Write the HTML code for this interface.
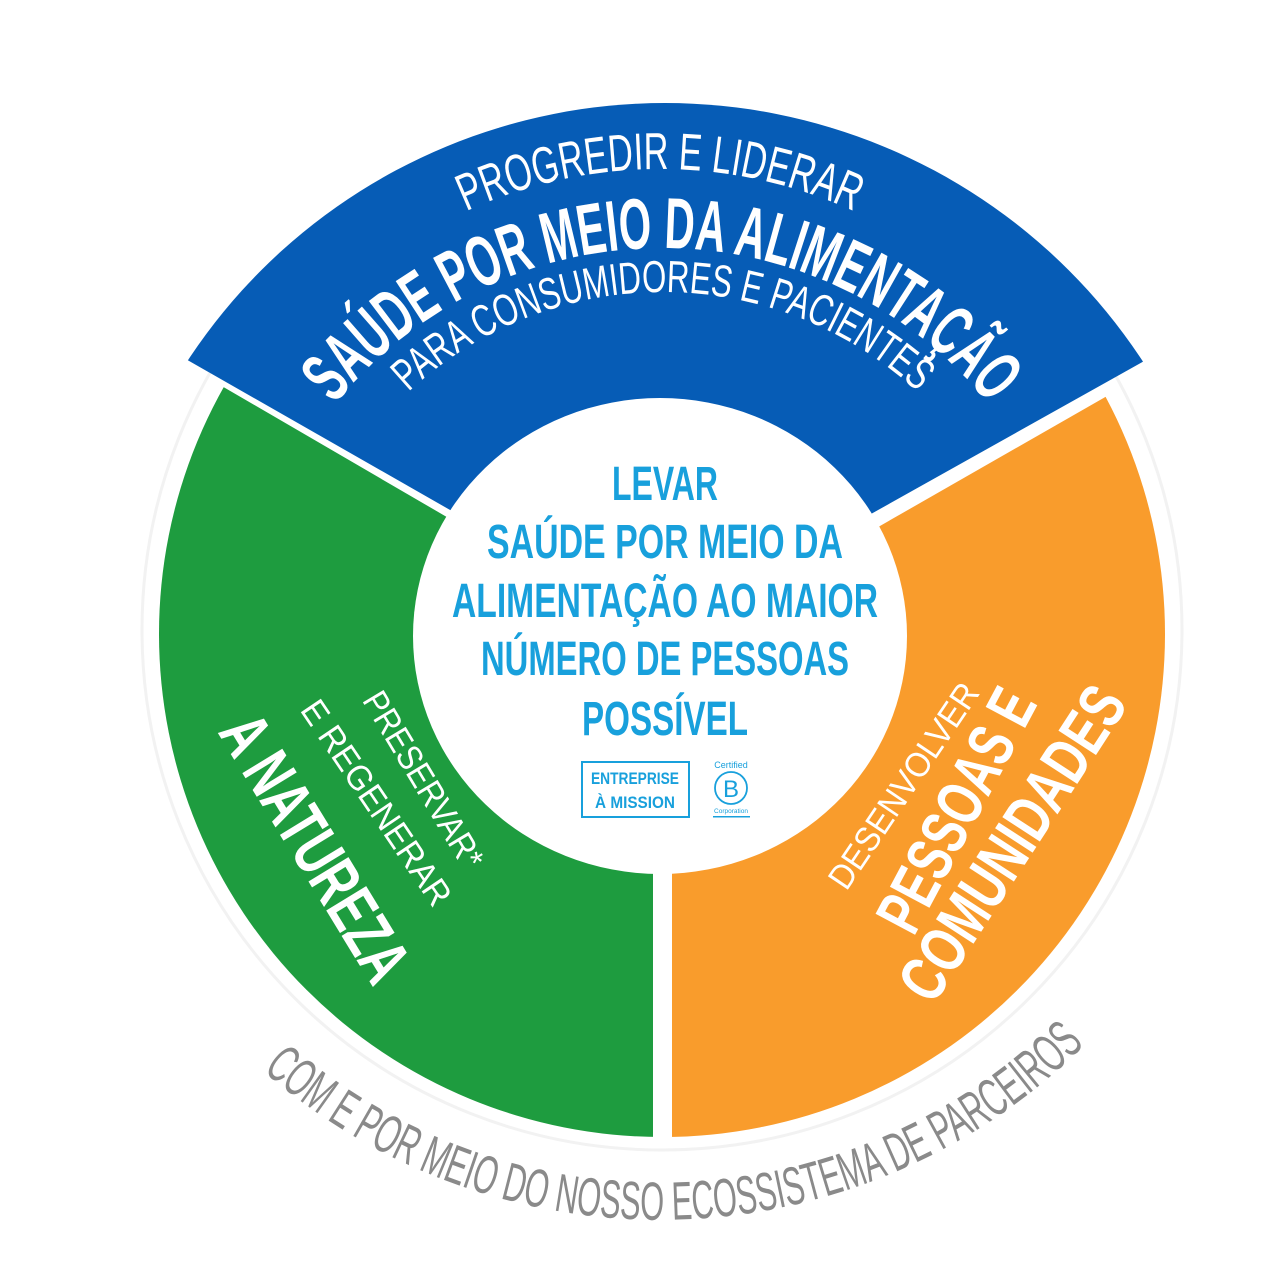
<!DOCTYPE html>
<html><head><meta charset="utf-8"><style>
html,body{margin:0;padding:0;background:#fff;width:1280px;height:1280px;overflow:hidden}
svg{display:block}
.n{font-family:"Liberation Sans Narrow","Liberation Sans",sans-serif}
</style></head><body>
<svg width="1280" height="1280" viewBox="0 0 1280 1280" xmlns="http://www.w3.org/2000/svg">
<defs>
<clipPath id="ring"><circle cx="662" cy="634" r="503"/></clipPath>
<clipPath id="bc"><circle cx="665" cy="674" r="571"/></clipPath>
<path id="p1" d="M195 634 A465 465 0 0 1 1125 634"/>
<path id="p2" d="M242 668 A420 420 0 0 1 1082 668"/>
<path id="p3" d="M289 666 A374 374 0 0 1 1037 666"/>
<path id="p4" d="M57 617 A603 603 0 0 0 1263 617"/>
</defs>
<circle cx="662" cy="630" r="520" fill="none" stroke="#f2f2f2" stroke-width="3"/>
<g clip-path="url(#ring)">
<polygon points="0,257 653,637 653,1280 0,1280" fill="#1e9c3f"/>
<polygon points="672,645 1280,297 1280,1280 672,1280" fill="#f99c2c"/>
</g>
<g clip-path="url(#bc)">
<polygon points="0,0 1280,0 1280,285 662,631 0,253" fill="#065cb6"/>
</g>
<ellipse cx="660" cy="636" rx="247" ry="238" fill="#fff"/>

<g class="n" fill="#fff">
<text font-size="52" text-anchor="middle"><textPath href="#p1" startOffset="50%" textLength="400" lengthAdjust="spacingAndGlyphs">PROGREDIR E LIDERAR</textPath></text>
<text font-size="72" font-weight="bold" text-anchor="middle"><textPath href="#p2" startOffset="50%" textLength="750" lengthAdjust="spacingAndGlyphs">SAÚDE POR MEIO DA ALIMENTAÇÃO</textPath></text>
<text font-size="45" text-anchor="middle"><textPath href="#p3" startOffset="50%" textLength="560" lengthAdjust="spacingAndGlyphs">PARA CONSUMIDORES E PACIENTES</textPath></text>

<text font-size="35" text-anchor="middle" dominant-baseline="central" transform="translate(423,780) rotate(59)" textLength="200" lengthAdjust="spacingAndGlyphs">PRESERVAR*</text>
<text font-size="35" text-anchor="middle" dominant-baseline="central" transform="translate(376,803) rotate(56)" textLength="240" lengthAdjust="spacingAndGlyphs">E REGENERAR</text>
<text font-size="68" font-weight="bold" text-anchor="middle" dominant-baseline="central" transform="translate(315,848) rotate(58.6)" textLength="300" lengthAdjust="spacingAndGlyphs">A NATUREZA</text>

<text font-size="35" text-anchor="middle" dominant-baseline="central" transform="translate(904,786) rotate(-56)" textLength="240" lengthAdjust="spacingAndGlyphs">DESENVOLVER</text>
<text font-size="65" font-weight="bold" text-anchor="middle" dominant-baseline="central" transform="translate(956,810) rotate(-62)" textLength="265" lengthAdjust="spacingAndGlyphs">PESSOAS E</text>
<text font-size="65" font-weight="bold" text-anchor="middle" dominant-baseline="central" transform="translate(1012,843) rotate(-57)" textLength="360" lengthAdjust="spacingAndGlyphs">COMUNIDADES</text>
</g>

<g class="n" fill="#18a0dc" font-weight="bold" font-size="48" text-anchor="middle">
<text x="665" y="500" textLength="106" lengthAdjust="spacingAndGlyphs">LEVAR</text>
<text x="665" y="558" textLength="356" lengthAdjust="spacingAndGlyphs">SAÚDE POR MEIO DA</text>
<text x="665" y="617" textLength="426" lengthAdjust="spacingAndGlyphs">ALIMENTAÇÃO AO MAIOR</text>
<text x="665" y="675" textLength="368" lengthAdjust="spacingAndGlyphs">NÚMERO DE PESSOAS</text>
<text x="665" y="735" textLength="166" lengthAdjust="spacingAndGlyphs">POSSÍVEL</text>
</g>

<rect x="582" y="762" width="107" height="55" fill="none" stroke="#18a0dc" stroke-width="2"/>
<g class="n" fill="#18a0dc" font-weight="bold" font-size="17" text-anchor="middle">
<text x="635" y="784" textLength="88" lengthAdjust="spacingAndGlyphs">ENTREPRISE</text>
<text x="635" y="808" textLength="80" lengthAdjust="spacingAndGlyphs">À MISSION</text>
</g>
<g fill="#18a0dc" font-family="Liberation Sans,sans-serif">
<text x="731" y="768" font-size="9" text-anchor="middle">Certified</text>
<circle cx="731" cy="788" r="16" fill="none" stroke="#18a0dc" stroke-width="1.8"/>
<text x="731" y="797" font-size="24" text-anchor="middle">B</text>
<text x="731" y="813" font-size="6.5" text-anchor="middle">Corporation</text>
<rect x="713" y="816" width="37" height="1.5"/>
</g>

<text class="n" fill="#8a8a8a" font-size="54" text-anchor="middle"><textPath href="#p4" startOffset="51%" textLength="905" lengthAdjust="spacingAndGlyphs">COM E POR MEIO DO NOSSO ECOSSISTEMA DE PARCEIROS</textPath></text>
</svg>
</body></html>
